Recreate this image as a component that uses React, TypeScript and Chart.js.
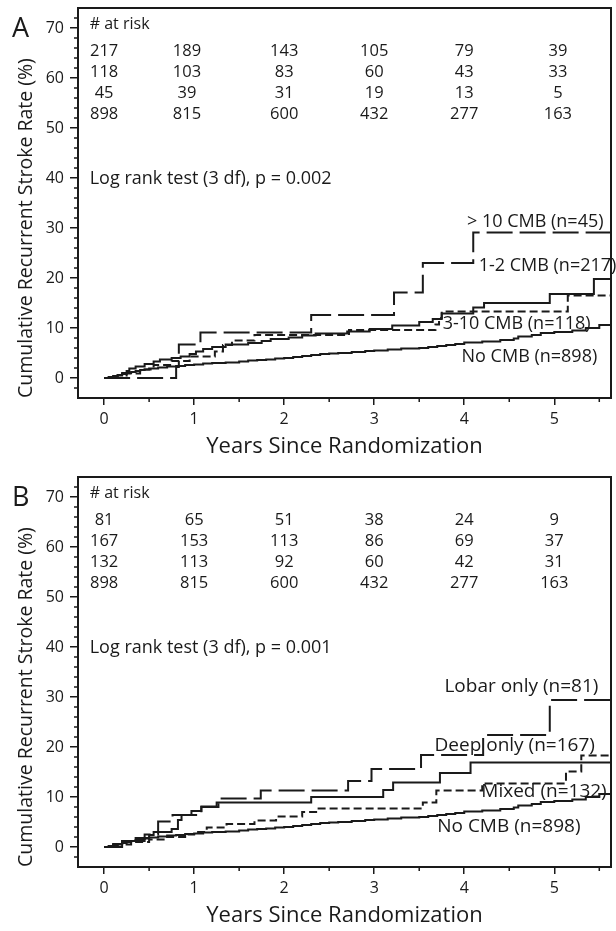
import React, { useEffect, useRef } from 'react';
import { Chart, registerables } from 'chart.js';

Chart.register(...registerables);

const FONT = '"Open Sans", "Noto Sans", sans-serif';
const INK = '#1a1a1a';

// ---------- axes ----------
const xTickYears = [0, 1, 2, 3, 4, 5];
const xMinorYears = [0.5, 1.5, 2.5, 3.5, 4.5, 5.5];
const yTickValues = [0, 10, 20, 30, 40, 50, 60, 70];
const yMinorValues = [-2, 2, 4, 6, 8, 12, 14, 16, 18, 22, 24, 26, 28, 32, 34, 36, 38, 42, 44, 46, 48, 52, 54, 56, 58, 62, 64, 66, 68, 72];

// ---------- shared: No CMB (n=898) ----------
const noCmbTimes = [0, 0.05, 0.1, 0.15, 0.2, 0.25, 0.3, 0.35, 0.4, 0.45, 0.5, 0.6, 0.7, 0.8, 0.9, 1.0, 1.1, 1.2, 1.35, 1.5, 1.6, 1.7, 1.8, 1.9, 2.0, 2.1, 2.2, 2.3, 2.4, 2.5, 2.6, 2.75, 2.9, 3.0, 3.15, 3.3, 3.5, 3.6, 3.7, 3.8, 3.9, 4.0, 4.2, 4.4, 4.55, 4.6, 4.75, 4.85, 5.0, 5.2, 5.35, 5.5, 5.63];
const noCmbRates = [0, 0.2, 0.4, 0.6, 0.8, 1.0, 1.2, 1.4, 1.6, 1.7, 1.9, 2.1, 2.3, 2.4, 2.6, 2.7, 2.9, 3.0, 3.1, 3.3, 3.5, 3.6, 3.7, 3.9, 4.0, 4.2, 4.4, 4.6, 4.8, 4.9, 5.0, 5.2, 5.4, 5.5, 5.7, 5.9, 6.0, 6.2, 6.4, 6.6, 6.8, 7.1, 7.3, 7.6, 7.9, 8.3, 8.6, 9.0, 9.2, 9.5, 10.0, 10.6, 10.6];

// ---------- panel A ----------
const oneTwoTimes = [0, 0.15, 0.2, 0.25, 0.28, 0.35, 0.45, 0.55, 0.62, 0.75, 0.85, 0.95, 1.02, 1.1, 1.2, 1.35, 1.6, 1.75, 1.85, 2.05, 2.2, 2.35, 2.7, 2.95, 3.2, 3.5, 3.65, 3.75, 4.1, 4.22, 4.95, 5.44, 5.63];
const oneTwoRates = [0, 0.5, 1.0, 1.4, 1.9, 2.3, 2.8, 3.3, 3.7, 4.0, 4.3, 4.8, 5.3, 5.8, 6.2, 6.7, 7.0, 7.4, 7.8, 8.1, 8.5, 8.9, 9.3, 9.8, 10.5, 11.2, 11.8, 12.9, 14.1, 15.0, 16.8, 19.8, 19.8];
const threeTenTimes = [0, 0.25, 0.4, 0.55, 0.75, 0.95, 1.23, 1.32, 1.42, 1.67, 2.72, 3.68, 3.72, 3.75, 5.15, 5.63];
const threeTenRates = [0, 0.9, 1.7, 2.6, 3.4, 4.3, 5.3, 6.6, 7.5, 8.6, 9.6, 10.7, 12.0, 13.3, 16.5, 16.5];
const gt10Times = [0, 0.8, 0.83, 1.07, 2.3, 3.22, 3.54, 4.1, 5.63];
const gt10Rates = [0, 2.2, 6.7, 9.1, 12.6, 17.1, 23.0, 29.1, 29.1];

const riskA12 = [217, 189, 143, 105, 79, 39];
const riskA310 = [118, 103, 83, 60, 43, 33];
const riskAgt10 = [45, 39, 31, 19, 13, 5];
const riskNoCmb = [898, 815, 600, 432, 277, 163];
const riskColumnsA = [0, 0.92, 2, 3, 4, 5.04];

// ---------- panel B ----------
const lobarTimes = [0, 0.2, 0.45, 0.6, 0.76, 1.08, 1.27, 1.74, 2.71, 2.97, 3.52, 4.21, 4.95, 5.63];
const lobarRates = [0, 1.2, 2.5, 5.1, 6.4, 8.0, 9.7, 11.3, 13.2, 15.6, 18.4, 22.4, 29.4, 29.4];
const deepTimes = [0, 0.1, 0.2, 0.35, 0.5, 0.55, 0.75, 0.82, 0.86, 0.97, 1.08, 1.25, 2.3, 3.1, 3.21, 3.73, 4.07, 5.63];
const deepRates = [0, 0.6, 1.2, 1.8, 2.4, 3.0, 3.6, 5.4, 6.4, 7.2, 8.1, 8.9, 10.0, 11.4, 12.9, 14.8, 16.9, 16.9];
const mixedTimes = [0, 0.15, 0.3, 0.5, 0.7, 0.9, 1.0, 1.14, 1.36, 1.67, 1.91, 2.2, 2.37, 3.54, 3.69, 4.2, 5.13, 5.3, 5.63];
const mixedRates = [0, 0.5, 1.0, 1.5, 2.0, 2.5, 3.0, 3.9, 4.6, 5.3, 6.1, 7.0, 7.7, 8.9, 11.3, 12.7, 15.1, 18.3, 18.3];

const riskBLobar = [81, 65, 51, 38, 24, 9];
const riskBDeep = [167, 153, 113, 86, 69, 37];
const riskBMixed = [132, 113, 92, 60, 42, 31];
const riskColumnsB = [0, 1, 2, 3, 4, 5];

const riskHeaderLevel = 70.8;
const riskRowLevels = [65.4, 61.2, 57.0, 52.8];

const LONG_DASH = [26, 7];
const SHORT_DASH = [8, 4];
const SOLID: number[] = [];

const X_MIN = -0.29;
const X_MAX = 5.63;
const Y_MIN = -4;
const Y_MAX = 74;

const panels = [
  {
    letter: 'A',
    logRank: 'Log rank test (3 df), p = 0.002',
    series: [
      { times: gt10Times, rates: gt10Rates, dash: LONG_DASH },
      { times: threeTenTimes, rates: threeTenRates, dash: SHORT_DASH },
      { times: oneTwoTimes, rates: oneTwoRates, dash: SOLID },
      { times: noCmbTimes, rates: noCmbRates, dash: SOLID },
    ],
    labelSize: 18,
    labels: [
      { text: '> 10 CMB (n=45)', x: 4.03, y: 31.3 },
      { text: '1-2 CMB (n=217)', x: 4.16, y: 22.5 },
      { text: '3-10 CMB (n=118)', x: 3.76, y: 10.9 },
      { text: 'No CMB (n=898)', x: 3.97, y: 4.2 },
    ],
    riskRows: [riskA12, riskA310, riskAgt10, riskNoCmb],
    riskCols: riskColumnsA,
  },
  {
    letter: 'B',
    logRank: 'Log rank test (3 df), p = 0.001',
    series: [
      { times: lobarTimes, rates: lobarRates, dash: LONG_DASH },
      { times: mixedTimes, rates: mixedRates, dash: SHORT_DASH },
      { times: deepTimes, rates: deepRates, dash: SOLID },
      { times: noCmbTimes, rates: noCmbRates, dash: SOLID },
    ],
    labelSize: 19,
    labels: [
      { text: 'Lobar only (n=81)', x: 3.78, y: 32.0 },
      { text: 'Deep only (n=167)', x: 3.67, y: 20.2 },
      { text: 'Mixed (n=132)', x: 4.19, y: 11.1 },
      { text: 'No CMB (n=898)', x: 3.7, y: 4.1 },
    ],
    riskRows: [riskBLobar, riskBDeep, riskBMixed, riskNoCmb],
    riskCols: riskColumnsB,
  },
];

type PanelDef = (typeof panels)[number];

function makeDecor(panel: PanelDef) {
  return {
    id: 'decor' + panel.letter,
    afterDatasetsDraw(chart: any) {
      const { ctx, scales } = chart;
      const x = scales.x;
      const y = scales.y;
      ctx.save();
      ctx.fillStyle = INK;
      ctx.textBaseline = 'middle';
      ctx.textAlign = 'left';
      ctx.font = `16px ${FONT}`;
      ctx.fillText('# at risk', x.getPixelForValue(-0.16), y.getPixelForValue(riskHeaderLevel));
      ctx.textAlign = 'center';
      ctx.font = `16.5px ${FONT}`;
      panel.riskRows.forEach((row, i) => {
        row.forEach((n, j) => {
          ctx.fillText(String(n), x.getPixelForValue(panel.riskCols[j]), y.getPixelForValue(riskRowLevels[i]));
        });
      });
      ctx.textAlign = 'left';
      ctx.font = `18px ${FONT}`;
      ctx.fillText(panel.logRank, x.getPixelForValue(-0.16), y.getPixelForValue(39.8));
      ctx.font = `${panel.labelSize}px ${FONT}`;
      panel.labels.forEach((l) => {
        ctx.fillText(l.text, x.getPixelForValue(l.x), y.getPixelForValue(l.y));
      });
      ctx.restore();
    },
    afterDraw(chart: any) {
      const { ctx, chartArea, scales } = chart;
      const { left, right, top, bottom } = chartArea;
      ctx.save();
      ctx.strokeStyle = INK;
      ctx.lineWidth = 1.5;
      ctx.beginPath();
      xMinorYears.forEach((v) => {
        const px = scales.x.getPixelForValue(v);
        ctx.moveTo(px, bottom);
        ctx.lineTo(px, bottom + 4);
      });
      yMinorValues.forEach((v) => {
        const py = scales.y.getPixelForValue(v);
        ctx.moveTo(left, py);
        ctx.lineTo(left - 4, py);
      });
      ctx.stroke();
      ctx.lineWidth = 2;
      ctx.strokeRect(left, top, right - left, bottom - top);
      ctx.fillStyle = INK;
      ctx.font = `27px ${FONT}`;
      ctx.textAlign = 'left';
      ctx.textBaseline = 'alphabetic';
      ctx.fillText(panel.letter, 12, 37);
      ctx.restore();
    },
  };
}

function makeConfig(panel: PanelDef): any {
  return {
    type: 'line',
    data: {
      datasets: panel.series.map((s) => ({
        data: s.times.map((t, i) => ({ x: t, y: s.rates[i] })),
        borderColor: INK,
        borderWidth: 2,
        borderDash: s.dash,
        stepped: 'before',
        pointRadius: 0,
        fill: false,
        tension: 0,
      })),
    },
    options: {
      responsive: false,
      animation: false,
      events: [],
      layout: { padding: { top: 8, right: 5, left: 0, bottom: 0 } },
      plugins: { legend: { display: false }, tooltip: { enabled: false }, title: { display: false } },
      scales: {
        x: {
          type: 'linear',
          min: X_MIN,
          max: X_MAX,
          afterBuildTicks: (s: any) => {
            s.ticks = xTickYears.map((v) => ({ value: v }));
          },
          afterFit: (s: any) => {
            s.height = 64;
            s.paddingLeft = 0;
            s.paddingRight = 0;
          },
          ticks: { autoSkip: false, maxRotation: 0, color: INK, font: { family: FONT, size: 16 }, padding: 5 },
          grid: { display: true, drawOnChartArea: false, drawTicks: true, tickLength: 7, color: INK, lineWidth: 1.5 },
          border: { display: false },
          title: {
            display: true,
            text: 'Years Since Randomization',
            color: INK,
            font: { family: FONT, size: 22 },
            padding: { top: 0, bottom: 2 },
          },
        },
        y: {
          type: 'linear',
          min: Y_MIN,
          max: Y_MAX,
          afterBuildTicks: (s: any) => {
            s.ticks = yTickValues.map((v) => ({ value: v }));
          },
          afterFit: (s: any) => {
            s.width = 78;
            s.paddingTop = 0;
            s.paddingBottom = 0;
          },
          ticks: { autoSkip: false, color: INK, font: { family: FONT, size: 16 }, padding: 6 },
          grid: { display: true, drawOnChartArea: false, drawTicks: true, tickLength: 8, color: INK, lineWidth: 1.5 },
          border: { display: false },
          title: {
            display: true,
            text: 'Cumulative Recurrent Stroke Rate (%)',
            color: INK,
            align: 'start',
            font: { family: FONT, size: 19.5 },
            padding: { top: 15, bottom: 0 },
          },
        },
      },
    },
    plugins: [makeDecor(panel)],
  };
}

function Panel({ panel, top }: { panel: PanelDef; top: number }) {
  const ref = useRef<HTMLCanvasElement>(null);
  useEffect(() => {
    const chart = new Chart(ref.current as HTMLCanvasElement, makeConfig(panel));
    return () => chart.destroy();
  }, [panel]);
  return (
    <canvas
      ref={ref}
      width={616}
      height={462}
      style={{ position: 'absolute', left: 0, top, width: 616, height: 462, display: 'block' }}
    />
  );
}

export default function App() {
  return (
    <div style={{ position: 'absolute', left: 0, top: 0, width: 616, height: 931, background: '#fff' }}>
      <Panel panel={panels[0]} top={0} />
      <Panel panel={panels[1]} top={469} />
    </div>
  );
}
